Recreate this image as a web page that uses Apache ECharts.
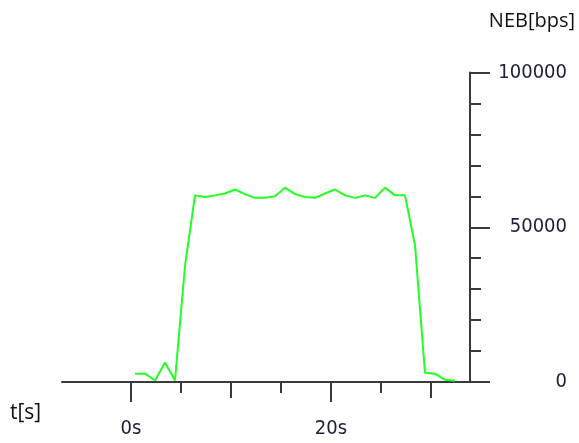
<!DOCTYPE html>
<html>
<head>
<meta charset="utf-8">
<script src="https://cdn.jsdelivr.net/npm/echarts@6/dist/echarts.min.js"></script>
<style>
html,body{margin:0;padding:0;background:#fff;}
#chart{width:579px;height:443px;}
</style>
</head>
<body>
<div id="chart"></div>
<script>
// time stamps (seconds)
const times = [0.4, 1.4, 2.4, 3.4, 4.4, 5.4, 6.4, 7.4, 8.4, 9.4, 10.4, 11.4, 12.4, 13.4, 14.4, 15.4, 16.4, 17.4, 18.4, 19.4, 20.4, 21.4, 22.4, 23.4, 24.4, 25.4, 26.4, 27.4, 28.4, 29.4, 30.4, 31.4, 32.4];
// NEB values (bps)
const values = [2700, 2700, 500, 6300, 500, 37500, 60300, 59800, 60300, 60900, 62200, 60700, 59500, 59500, 60000, 62800, 60700, 59800, 59500, 60900, 62200, 60300, 59500, 60300, 59500, 62800, 60300, 60300, 44200, 3000, 2700, 700, 400];
// x tick tiers
const xTicksLong = [0, 20];
const xTicksMid = [10, 30];
const xTicksShort = [5, 15, 25];
const xLabelValues = [0, 20];
const yLabelValues = [0, 50000, 100000];

const axisColor = '#3a3a3a';
const labelFont = '"DejaVu Sans Condensed", "DejaVu Sans", sans-serif';
const xMin = -6.9, xMax = 33.9;

const chart = echarts.init(document.getElementById('chart'), null, {renderer: 'canvas'});

function tierAxis(vals, len, showLine, labels) {
  return {
    type: 'value', position: 'bottom', min: xMin, max: xMax,
    axisLine: {show: showLine, onZero: false, lineStyle: {color: axisColor, width: 2}},
    axisTick: {show: true, customValues: vals, length: len, lineStyle: {color: axisColor, width: 2}},
    axisLabel: labels ? {show: true, customValues: labels, formatter: '{value}s', margin: 37,
      fontFamily: labelFont, fontSize: 20, color: '#1e1e3c'} : {show: false},
    splitLine: {show: false}
  };
}

chart.setOption({
  animation: false,
  backgroundColor: '#fff',
  grid: {left: 62, right: 109, top: 72.5, bottom: 61, containLabel: false, outerBoundsMode: 'none'},
  xAxis: [
    tierAxis(xTicksLong, 20, true, xLabelValues),
    tierAxis(xTicksMid, 16, false, null),
    tierAxis(xTicksShort, 11, false, null)
  ],
  yAxis: {
    type: 'value', position: 'right', min: 0, max: 100000, interval: 50000,
    axisLine: {show: true, onZero: false, lineStyle: {color: axisColor, width: 2}},
    axisTick: {show: true, length: 20, lineStyle: {color: axisColor, width: 2}},
    minorTick: {show: true, splitNumber: 5, length: 11, lineStyle: {color: axisColor, width: 2}},
    axisLabel: {show: true, customValues: yLabelValues, align: 'right', margin: 97,
      formatter: v => String(v),
      fontFamily: labelFont, fontSize: 20, color: '#1e1e3c'},
    splitLine: {show: false}
  },
  graphic: [
    {type: 'text', left: 10, top: 403, style: {text: 't[s]', font: '21px "Open Sans"', fill: '#111'}},
    {type: 'text', right: 4, top: 11, style: {text: 'NEB[bps]', font: '20px "Open Sans"', fill: '#111'}}
  ],
  series: [{
    type: 'line',
    data: times.map((t, i) => [t, values[i]]),
    showSymbol: false,
    symbol: 'none',
    lineStyle: {color: '#22ff22', width: 2},
    z: 3
  }]
});
</script>
</body>
</html>
